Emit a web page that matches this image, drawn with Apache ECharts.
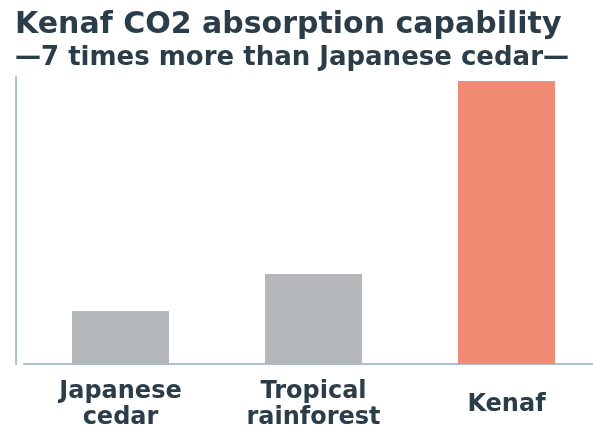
<!DOCTYPE html>
<html>
<head>
<meta charset="utf-8">
<script src="https://cdn.jsdelivr.net/npm/echarts@6/dist/echarts.min.js"></script>
<style>
  html, body { margin: 0; padding: 0; background: #ffffff; }
  #chart { width: 593px; height: 429px; }
</style>
</head>
<body>
<div id="chart"></div>
<script>
// CO2 absorption (relative units)
const categories = ['Japanese\ncedar', 'Tropical\nrainforest', 'Kenaf'];
const absorption = [53, 90, 283];
const barColors = ['#b4b8bb', '#b4b8bb', '#f28b74'];

const titleText = 'Kenaf CO2 absorption capability';
const subtitleText = '\u20147 times more than Japanese cedar\u2014';

const textColor = '#2c3d4a';
const font = '"DejaVu Sans", sans-serif';
const labelStyle = { fontFamily: font, fontWeight: 'bold', fontSize: 24, color: textColor };

const chart = echarts.init(document.getElementById('chart'), null, { renderer: 'canvas' });

chart.setOption({
  backgroundColor: '#ffffff',
  animation: false,
  title: [
    {
      text: titleText,
      left: 15,
      top: 10,
      padding: 0,
      textStyle: { fontFamily: font, fontWeight: 'bold', fontSize: 30, color: textColor }
    },
    {
      text: subtitleText,
      left: 15,
      top: 45,
      padding: 0,
      textStyle: { fontFamily: font, fontWeight: 'bold', fontSize: 26, color: textColor }
    }
  ],
  // the plot area runs past the right edge, so the x axis line is cut by the border
  grid: { left: 24, width: 579, top: 77, bottom: 65, outerBoundsMode: 'none' },
  xAxis: {
    type: 'category',
    data: categories,
    axisLine: { show: true, lineStyle: { color: '#a9c0cd', width: 2 } },
    axisTick: { show: false },
    axisLabel: Object.assign({}, labelStyle, {
      margin: 15,
      lineHeight: 26,
      interval: 0,
      // single-line labels sit centred against the two-line ones
      formatter: v => v.indexOf('\n') < 0 ? '{one|' + v + '}' : v,
      rich: { one: Object.assign({}, labelStyle, { lineHeight: 26, padding: [26, 0, 0, 0] }) }
    })
  },
  yAxis: {
    type: 'value',
    min: 0,
    max: 287,
    offset: 8,
    axisLine: { show: true, lineStyle: { color: '#a9c0cd', width: 2 } },
    axisTick: { show: false },
    axisLabel: { show: false },
    splitLine: { show: false }
  },
  series: [{
    type: 'bar',
    data: absorption.map((v, i) => ({ value: v, itemStyle: { color: barColors[i] } })),
    barWidth: 97
  }]
});
</script>
</body>
</html>
